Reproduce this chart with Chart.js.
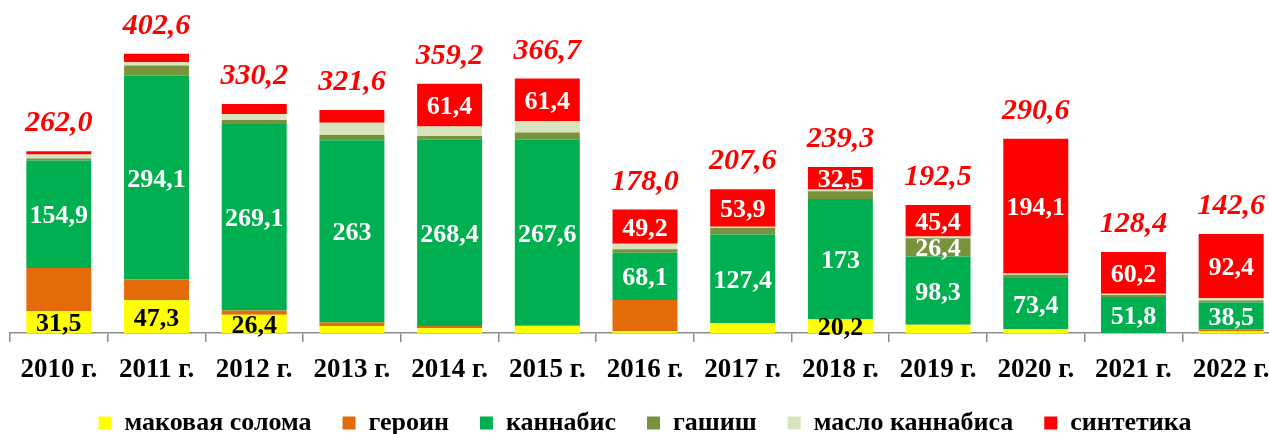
<!DOCTYPE html>
<html>
<head>
<meta charset="utf-8">
<script src="https://cdn.jsdelivr.net/npm/chart.js@4"></script>
<style>
  html, body { margin: 0; padding: 0; background: #fff; overflow: hidden; }
  #wrap { width: 1290px; height: 434px; }
</style>
</head>
<body>
<div id="wrap"><canvas id="myChart"></canvas></div>
<script>
// years
var years = ["2010 г.", "2011 г.", "2012 г.", "2013 г.", "2014 г.", "2015 г.", "2016 г.",
  "2017 г.", "2018 г.", "2019 г.", "2020 г.", "2021 г.", "2022 г."];

// series, bottom to top of the stack
var poppy     = [31.5, 47.3, 26.4, 10, 7, 10, 2.5, 14.5, 20.2, 12, 5.8, 0, 2.5];
var heroin    = [62.1, 29.7, 5.9, 5, 3, 1, 45, 0, 0, 0, 0, 0, 3];
var cannabis  = [154.9, 294.1, 269.1, 263, 268.4, 267.6, 68.1, 127.4, 173, 98.3, 73.4, 51.8, 38.5];
var hashish   = [2.9, 14.4, 5.8, 7.5, 5.5, 10.5, 5, 9.3, 11.2, 26.4, 4.8, 2.9, 3];
var oil       = [5.8, 4.9, 8.6, 17.5, 13.9, 16.2, 8.2, 2, 2.4, 2.4, 1.9, 1.9, 3.2];
var synthetic = [4.8, 12, 14.4, 18.6, 61.4, 61.4, 49.2, 53.9, 32.5, 45.4, 194.1, 60.2, 92.4];

// totals printed above the bars
var totals = [262.0, 402.6, 330.2, 321.6, 359.2, 366.7, 178.0, 207.6, 239.3, 192.5, 290.6, 128.4, 142.6];

var serif = '"Liberation Serif", "Times New Roman", serif';

function fmt(v) {
  return String(v).replace('.', ',');
}

// labels inside segments + totals above
const barLabels = {
  id: 'barLabels',
  afterDatasetsDraw(chart) {
    const ctx = chart.ctx;
    ctx.save();
    ctx.textAlign = 'center';
    ctx.textBaseline = 'alphabetic';
    ctx.font = 'bold 26px ' + serif;
    chart.data.datasets.forEach((ds, i) => {
      if (!ds.showLabels) return;
      const meta = chart.getDatasetMeta(i);
      meta.data.forEach((bar, j) => {
        const v = ds.data[j];
        if (v < 20) return;
        ctx.fillStyle = ds.labelColor;
        ctx.fillText(fmt(v), bar.x, (bar.y + bar.base) / 2 + 9);
      });
    });
    const top = chart.getDatasetMeta(chart.data.datasets.length - 1);
    ctx.font = 'italic bold 30px ' + serif;
    ctx.fillStyle = '#ff0000';
    top.data.forEach((bar, j) => {
      ctx.fillText(totals[j].toFixed(1).replace('.', ','), bar.x, bar.y - 20);
    });
    ctx.restore();
  }
};

const datachart = {
  labels: years,
  datasets: [
    { label: 'маковая солома', data: poppy, backgroundColor: '#ffff00', showLabels: true, labelColor: '#000' },
    { label: 'героин', data: heroin, backgroundColor: '#e36c09' },
    { label: 'каннабис', data: cannabis, backgroundColor: '#00b050', showLabels: true, labelColor: '#fff' },
    { label: 'гашиш', data: hashish, backgroundColor: '#77933c', showLabels: true, labelColor: '#fff' },
    { label: 'масло каннабиса', data: oil, backgroundColor: '#d7e4bd' },
    { label: 'синтетика', data: synthetic, backgroundColor: '#ff0000', showLabels: true, labelColor: '#fff' }
  ]
};

const config = {
  type: 'bar',
  data: datachart,
  options: {
    responsive: true,
    maintainAspectRatio: false,
    animation: false,
    layout: { padding: { left: 10, right: 10, top: 0, bottom: 0 } },
    datasets: {
      bar: { barPercentage: 0.665, categoryPercentage: 1, borderWidth: 0 }
    },
    scales: {
      x: {
        stacked: true,
        afterFit: function (scale) { scale.height = 46; },
        grid: { drawOnChartArea: false, drawTicks: true, tickLength: 9, color: '#8c8c8c', lineWidth: 1.5 },
        border: { display: true, color: '#8c8c8c', width: 1.5 },
        ticks: { color: '#000', padding: 12, font: { family: serif, size: 27, weight: 'bold' } }
      },
      y: {
        stacked: true,
        display: false,
        min: 0,
        max: 480
      }
    },
    plugins: {
      legend: {
        position: 'bottom',
        maxHeight: 55,
        labels: {
          color: '#000',
          boxWidth: 13,
          boxHeight: 13,
          padding: 31,
          font: { family: serif, size: 26, weight: 'bold' }
        }
      },
      tooltip: { enabled: false }
    }
  },
  plugins: [barLabels]
};

const myChart = new Chart(document.getElementById('myChart'), config);
</script>
</body>
</html>
